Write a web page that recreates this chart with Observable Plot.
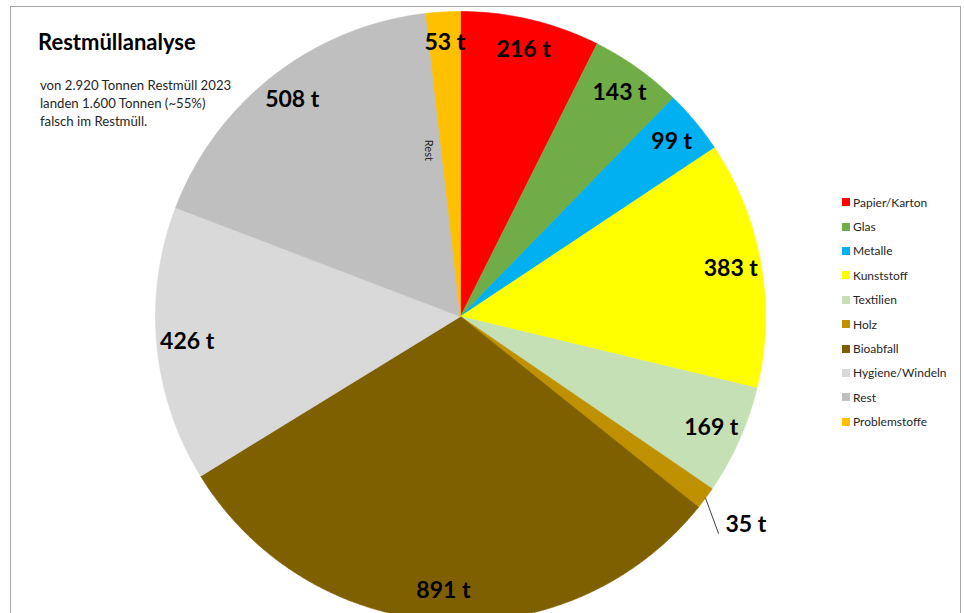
<!DOCTYPE html>
<html>
<head>
<meta charset="utf-8">
<script src="https://cdn.jsdelivr.net/npm/d3@7"></script>
<script src="https://cdn.jsdelivr.net/npm/@observablehq/plot@0.6"></script>
<style>
  html, body { margin: 0; padding: 0; background: #fff; }
  #wrap { position: relative; width: 964px; height: 613px; overflow: hidden; font-family: Lato, "Open Sans", sans-serif; }
  #frame { position: absolute; left: 10px; top: 6px; width: 951px; height: 640px; border: 1px solid #a6a6a6; box-sizing: border-box; }
  #chart { position: absolute; left: 0; top: 0; }
  #title { position: absolute; left: 38px; top: 28px; font-size: 22px; font-weight: bold; color: #000; }
  #sub { position: absolute; left: 40px; top: 76px; font-size: 13.2px; line-height: 18px; color: #262626; }
  #legend { position: absolute; left: 842px; top: 190px; font-size: 12px; color: #262626; }
  #legend .row { height: 24.4px; display: flex; align-items: center; white-space: nowrap; }
  #legend .sw { width: 8px; height: 8px; margin-right: 3px; }
</style>
</head>
<body>
<div id="wrap">
  <div id="frame"></div>
  <div id="chart"></div>
  <div id="title">Restmüllanalyse</div>
  <div id="sub">von 2.920 Tonnen Restmüll 2023<br>landen 1.600 Tonnen (~55%)<br>falsch im Restmüll.</div>
  <div id="legend"></div>
</div>
<script>
// ---- data ----
const categories = ["Papier/Karton", "Glas", "Metalle", "Kunststoff", "Textilien", "Holz", "Bioabfall", "Hygiene/Windeln", "Rest", "Problemstoffe"];
const tonnes = [216, 143, 99, 383, 169, 35, 891, 426, 508, 53];
const colors = ["#FF0000", "#70AD47", "#00B0F0", "#FFFF00", "#C5E0B4", "#BF9000", "#7F6000", "#D9D9D9", "#BFBFBF", "#FFC000"];
const outsideLabelCategories = ["Holz"];
const categoryLabelCategories = ["Rest"];

// ---- layout ----
const W = 964, H = 613;
const CX = 460, CY = 316, R = 305;

const data = categories.map((name, i) => ({name, t: tonnes[i]}));
const arcs = d3.pie().sort(null).value(d => d.t)(data);

// slice outlines in unit-circle coordinates (y up, angle clockwise from 12 o'clock)
const pts = [];
for (const a of arcs) {
  const name = a.data.name;
  pts.push({name, x: 0, y: 0});
  const n = Math.max(2, Math.ceil((a.endAngle - a.startAngle) / 0.005));
  for (let k = 0; k <= n; k++) {
    const ang = a.startAngle + (a.endAngle - a.startAngle) * k / n;
    pts.push({name, x: Math.sin(ang), y: Math.cos(ang)});
  }
  pts.push({name, x: 0, y: 0});
}

const polar = (ang, r) => ({x: r * Math.sin(ang), y: r * Math.cos(ang)});

const inside = [], outside = [], leaders = [], catLabels = [];
for (const a of arcs) {
  const mid = (a.startAngle + a.endAngle) / 2;
  const text = `${a.data.t} t`;
  if (outsideLabelCategories.includes(a.data.name)) {
    const p0 = polar(mid, 1.0);
    const p1 = polar(mid + 3.5 * Math.PI / 180, 1.105);
    leaders.push({name: a.data.name, ...p0}, {name: a.data.name, ...p1});
    outside.push({text, ...p1});
  } else {
    inside.push({text, ...polar(mid, 0.9)});
  }
  if (categoryLabelCategories.includes(a.data.name)) {
    catLabels.push({text: a.data.name, ...polar(a.endAngle - 4.5 * Math.PI / 180, 0.555)});
  }
}

const chart = Plot.plot({
  width: W,
  height: H,
  margin: 0,
  x: {domain: [-CX / R, (W - CX) / R], range: [0, W], axis: null},
  y: {domain: [(CY - H) / R, CY / R], range: [H, 0], axis: null},
  color: {domain: categories, range: colors},
  style: {background: "transparent", fontFamily: "Lato, 'Open Sans', sans-serif"},
  marks: [
    Plot.line(pts, {x: "x", y: "y", z: "name", fill: "name", stroke: "name", strokeWidth: 0.6, curve: "linear"}),
    Plot.line(leaders, {x: "x", y: "y", z: "name", stroke: "#404040", strokeWidth: 1}),
    Plot.text(inside, {x: "x", y: "y", text: "text", fontSize: 23, fontWeight: "bold", fill: "#000"}),
    Plot.text(outside, {x: "x", y: "y", text: "text", fontSize: 23, fontWeight: "bold", fill: "#000", textAnchor: "start", dx: 7, dy: -9}),
    Plot.text(catLabels, {x: "x", y: "y", text: "text", fontSize: 11, fill: "#222", rotate: 90})
  ]
});
document.getElementById("chart").appendChild(chart);

// legend
const lg = document.getElementById("legend");
categories.forEach((c, i) => {
  const row = document.createElement("div");
  row.className = "row";
  const sw = document.createElement("span");
  sw.className = "sw";
  sw.style.background = colors[i];
  const tx = document.createElement("span");
  tx.textContent = c;
  row.appendChild(sw);
  row.appendChild(tx);
  lg.appendChild(row);
});
</script>
</body>
</html>
